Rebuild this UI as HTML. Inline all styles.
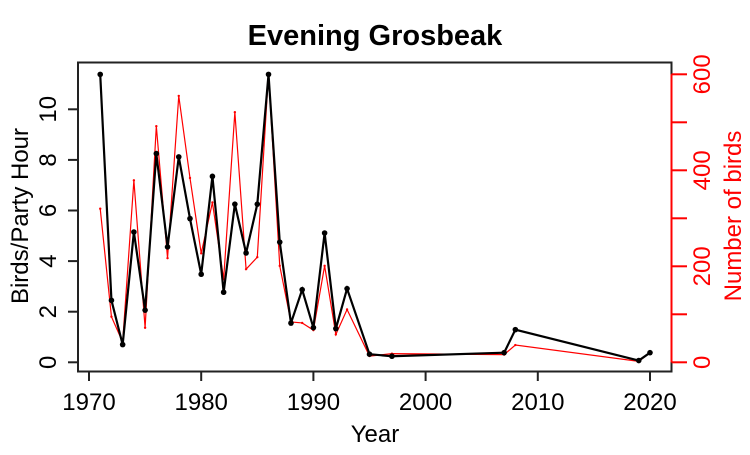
<!DOCTYPE html>
<html><head><meta charset="utf-8"><style>
html,body{margin:0;padding:0;background:#fff}
svg text{font-family:"Liberation Sans",Arial,sans-serif}
</style></head><body>
<svg id="chart" width="750" height="450" viewBox="0 0 750 450" xmlns="http://www.w3.org/2000/svg">
<text x="375" y="45" text-anchor="middle" style="font-size:29px;font-weight:bold">Evening Grosbeak</text>
<rect x="78" y="62.5" width="593.5" height="309" fill="none" stroke="#222" stroke-width="2"/>
<g id="xaxis"></g>
<g id="yaxis"></g>
<g id="y2axis"></g>
<g id="redSeries"></g>
<g id="blackSeries"></g>
<text x="375" y="442" text-anchor="middle" style="font-size:24px">Year</text>
<text transform="translate(28,216) rotate(-90)" text-anchor="middle" style="font-size:24px">Birds/Party Hour</text>
<text transform="translate(741,216) rotate(-90)" text-anchor="middle" style="font-size:24px" fill="#ff0000">Number of birds</text>
</svg>
<script>
const years = [1971,1972,1973,1974,1975,1976,1977,1978,1979,1980,1981,1982,1983,1984,1985,1986,1987,1988,1989,1990,1991,1992,1993,1995,1997,2007,2008,2019,2020];
const birdsPerHour = [11.38,2.45,0.70,5.15,2.06,8.25,4.56,8.12,5.68,3.48,7.35,2.77,6.25,4.32,6.25,11.38,4.75,1.55,2.87,1.37,5.11,1.33,2.91,0.32,0.24,0.38,1.29,0.07,0.38];
const birdCounts = [320,95,42,379,72,492,217,555,384,227,333,173,521,194,219,602,201,84,82,67,201,58,110,13,18,16,36,2,20];
const xTicks = [1970,1980,1990,2000,2010,2020];
const yTicks = [0,2,4,6,8,10];
const y2Ticks = [0,100,200,300,400,500,600];
const y2Labels = [0,200,400,600];

const NS="http://www.w3.org/2000/svg";
const xs = v => 89 + (v-1970)*11.22;
const ys = v => 362.3 - v*25.3;
const y2s = v => 362.3 - v*0.48;
function mk(tag, attrs, parent, txt){const e=document.createElementNS(NS,tag);for(const k in attrs)e.setAttribute(k,attrs[k]);if(txt!==undefined)e.textContent=txt;parent.appendChild(e);return e;}

const gx=document.getElementById('xaxis');
xTicks.forEach(t=>{
  const l=mk('line',{x1:xs(t),x2:xs(t),y1:371.5,y2:381,stroke:'#222','stroke-width':2},gx);
  
  
  const tx=mk('text',{x:xs(t),y:410,'text-anchor':'middle',style:'font-size:24px'},gx,String(t));
  
  
});
const gy=document.getElementById('yaxis');
yTicks.forEach(t=>{
  const l=mk('line',{x1:68,x2:78,y1:ys(t),y2:ys(t),stroke:'#222','stroke-width':2},gy);
  
  
  const tx=mk('text',{transform:`translate(56,${ys(t)}) rotate(-90)`,'text-anchor':'middle',style:'font-size:24px'},gy,String(t));
  
  
});
const gy2=document.getElementById('y2axis');
y2Ticks.forEach(t=>{
  const l=mk('line',{x1:671.5,x2:687,y1:y2s(t),y2:y2s(t),stroke:'#ff0000','stroke-width':2},gy2);
  
  
});
y2Labels.forEach(t=>{
  const tx=mk('text',{transform:`translate(710,${y2s(t)}) rotate(-90)`,'text-anchor':'middle',style:'font-size:24px',fill:'#ff0000'},gy2,String(t));
  
  
});
const ax=mk('line',{x1:671.5,x2:671.5,y1:y2s(0),y2:y2s(600),stroke:'#ff0000','stroke-width':2},gy2);



const gr=document.getElementById('redSeries');
const rp=mk('polyline',{points:years.map((y,i)=>xs(y)+','+y2s(birdCounts[i])).join(' '),fill:'none',stroke:'#ff0000','stroke-width':1.2},gr);


years.forEach((y,i)=>{
  const c=mk('circle',{cx:xs(y),cy:y2s(birdCounts[i]),r:1.2,fill:'#ff0000'},gr);
  
  
});
const gb=document.getElementById('blackSeries');
const bp=mk('polyline',{points:years.map((y,i)=>xs(y)+','+ys(birdsPerHour[i])).join(' '),fill:'none',stroke:'#000','stroke-width':2.2},gb);


years.forEach((y,i)=>{
  const c=mk('circle',{cx:xs(y),cy:ys(birdsPerHour[i]),r:2.8,fill:'#000'},gb);
  
  
});
</script>
</body></html>
